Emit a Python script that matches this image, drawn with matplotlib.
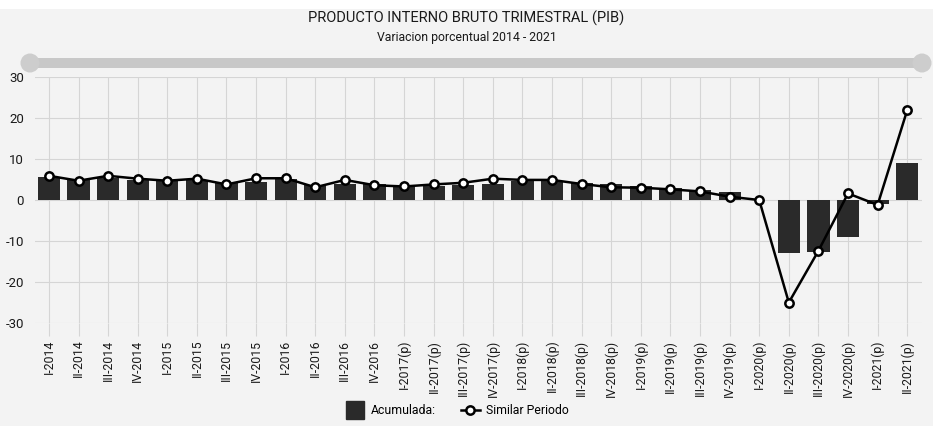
import numpy as np
import matplotlib.pyplot as plt
from matplotlib.patches import Rectangle, Ellipse
from matplotlib.lines import Line2D

plt.rcParams['font.family'] = ['Roboto', 'DejaVu Sans']
plt.rcParams['axes.unicode_minus'] = False

# Datos
trimestres = ['I-2014', 'II-2014', 'III-2014', 'IV-2014',
              'I-2015', 'II-2015', 'III-2015', 'IV-2015',
              'I-2016', 'II-2016', 'III-2016', 'IV-2016',
              'I-2017(p)', 'II-2017(p)', 'III-2017(p)', 'IV-2017(p)',
              'I-2018(p)', 'II-2018(p)', 'III-2018(p)', 'IV-2018(p)',
              'I-2019(p)', 'II-2019(p)', 'III-2019(p)', 'IV-2019(p)',
              'I-2020(p)', 'II-2020(p)', 'III-2020(p)', 'IV-2020(p)',
              'I-2021(p)', 'II-2021(p)']
acumulada = [5.6, 4.9, 5.4, 4.9, 4.6, 4.9, 4.1, 4.4, 5.1, 3.6,
             3.9, 3.8, 3.3, 3.4, 3.6, 3.9, 4.7, 4.6, 4.1, 3.9,
             3.4, 3.0, 2.5, 2.0, 0.0, -13.0, -12.7, -9.1, -1.0, 9.0]
similar = [5.9, 4.7, 5.9, 5.2, 4.7, 5.2, 3.8, 5.3, 5.3, 3.1,
           4.9, 3.6, 3.3, 3.8, 4.2, 5.2, 4.9, 4.9, 3.9, 3.1,
           3.0, 2.6, 2.1, 0.8, 0.0, -25.0, -12.4, 1.6, -1.2, 21.9]

W, H = 933, 426
fig = plt.figure(figsize=(W / 100, H / 100), dpi=100)
fig.patch.set_facecolor('#f3f3f3')

# franja blanca superior
fig.patches.append(Rectangle((0, 1 - 9 / H), 1, 9 / H, transform=fig.transFigure,
                             facecolor='white', edgecolor='none', zorder=0))

# barra de desplazamiento (slider)
fig.patches.append(Rectangle((30 / W, 1 - 68 / H), 892 / W, 10 / H, transform=fig.transFigure,
                             facecolor='#c8c8c8', edgecolor='none'))
for cx in (30, 922):
    fig.patches.append(Ellipse((cx / W, 1 - 63 / H), 19 / W, 19 / H, transform=fig.transFigure,
                               facecolor='#cdcdcd', edgecolor='none'))

fig.text(0.5, 1 - 18 / H, 'PRODUCTO INTERNO BRUTO TRIMESTRAL (PIB)',
         ha='center', va='center', fontsize=10.5, color='#1a1a1a')
fig.text(0.5, 1 - 37 / H, 'Variacion porcentual 2014 - 2021',
         ha='center', va='center', fontsize=8.8, color='#1a1a1a')

ax = fig.add_axes([35 / W, 1 - 323 / H, (922 - 35) / W, (323 - 77) / H])
ax.set_facecolor('#f3f3f3')

x = np.arange(len(trimestres))
ax.bar(x, acumulada, width=0.75, color='#2a2a2a', zorder=2)
ax.plot(x, similar, color='black', linewidth=1.8, marker='o', markersize=6,
        markerfacecolor='white', markeredgecolor='black', markeredgewidth=1.8, zorder=3)

ax.set_xlim(-0.47, 29.5)
ax.set_ylim(-30, 30)
ax.set_yticks([-30, -20, -10, 0, 10, 20, 30])
ax.set_xticks(x)
ax.set_xticklabels(trimestres, rotation=90, fontsize=8.8, color='#1a1a1a')
ax.tick_params(axis='y', length=0, labelsize=9.5, colors='#1a1a1a', pad=8)
ax.tick_params(axis='x', length=9, color='#d5d5d5', pad=3)
ax.grid(True, color='#d5d5d5', linewidth=0.8, zorder=0)
ax.set_axisbelow(True)
for s in ax.spines.values():
    s.set_visible(False)

handles = [Line2D([], [], marker='s', linestyle='none', markersize=13,
                  markerfacecolor='#2a2a2a', markeredgecolor='#2a2a2a'),
           Line2D([], [], color='black', linewidth=1.8, marker='o', markersize=6,
                  markerfacecolor='white', markeredgecolor='black', markeredgewidth=1.8)]
fig.legend(handles, ['Acumulada:', 'Similar Periodo'], loc='center',
           bbox_to_anchor=(0.49, 1 - 411 / H), ncol=2, frameon=False,
           fontsize=8.8, handlelength=1.6, columnspacing=2.0, handletextpad=0.5)

fig.savefig('out.png', dpi=100, facecolor=fig.get_facecolor())
